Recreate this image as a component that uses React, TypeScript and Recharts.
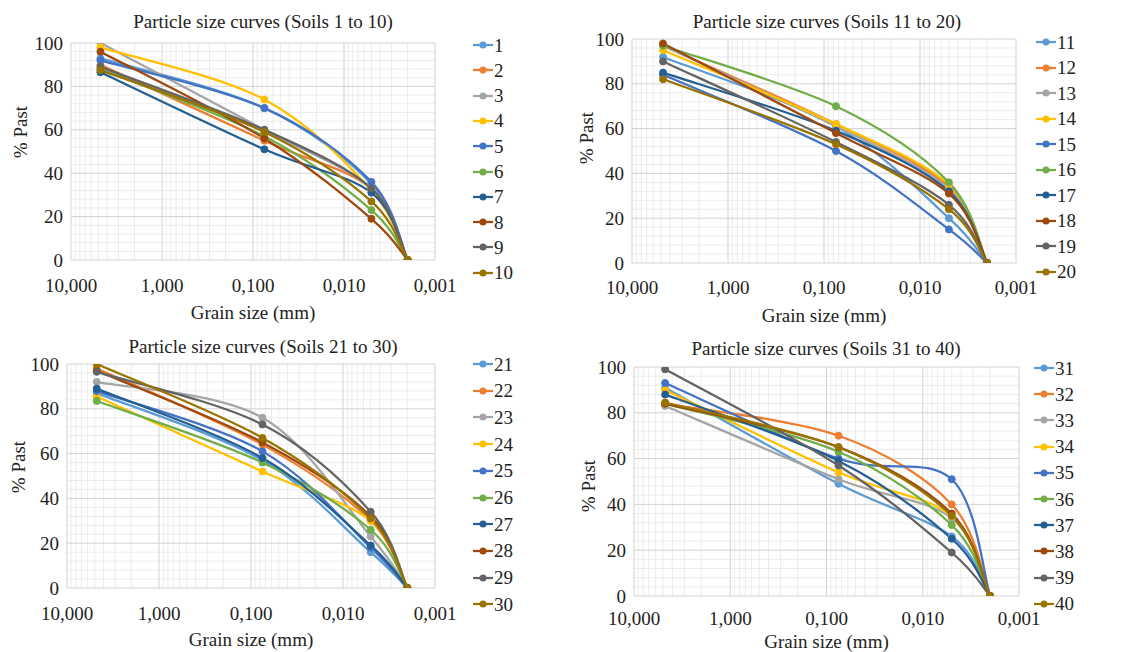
import React from "react";
import { LineChart, Line, XAxis, YAxis, CartesianGrid } from "recharts";

// grain sizes (mm) where % passing was measured
const grainSizes = [4.75, 0.075, 0.005, 0.002];

// % passing, one row per soil, columns follow grainSizes
const soils1to10 = [
  [93, 70, 35, 0],
  [90, 55, 33, 0],
  [100, 60, 33, 0],
  [98, 74, 32, 0],
  [92, 70, 36, 0],
  [88, 57, 23, 0],
  [86.5, 51, 31, 0],
  [96, 56, 19, 0],
  [89, 60, 33, 0],
  [87.5, 59, 27, 0],
];

const soils11to20 = [
  [92, 61, 20, 0],
  [97, 62, 34, 0],
  [97, 61, 33, 0],
  [95, 62, 35, 0],
  [84, 50, 15, 0],
  [97, 70, 36, 0],
  [85, 59, 32, 0],
  [98, 58, 31, 0],
  [90, 54, 26, 0],
  [82, 53, 24, 0],
];

const soils21to30 = [
  [87, 57, 16, 0],
  [98, 64, 30, 0],
  [92, 76, 23, 0],
  [85.5, 52, 30, 0],
  [88, 61, 18, 0],
  [83.5, 56, 26, 0],
  [89, 58, 19, 0],
  [97, 65, 32, 0],
  [96.5, 73, 34, 0],
  [100, 67, 31, 0],
];

const soils31to40 = [
  [91, 49, 26, 0],
  [84, 70, 40, 0],
  [83, 51, 34, 0],
  [90, 54, 35, 0],
  [93, 60, 51, 0],
  [84, 63, 31, 0],
  [88, 59, 25, 0],
  [84, 65, 36, 0],
  [99, 57, 19, 0],
  [84.5, 65, 35, 0],
];

const soilNames1 = ["1", "2", "3", "4", "5", "6", "7", "8", "9", "10"];
const soilNames2 = ["11", "12", "13", "14", "15", "16", "17", "18", "19", "20"];
const soilNames3 = ["21", "22", "23", "24", "25", "26", "27", "28", "29", "30"];
const soilNames4 = ["31", "32", "33", "34", "35", "36", "37", "38", "39", "40"];

const panelTitles = [
  "Particle size curves (Soils 1 to 10)",
  "Particle size curves (Soils 11 to 20)",
  "Particle size curves (Soils 21 to 30)",
  "Particle size curves (Soils 31 to 40)",
];

const xTicks = [10, 1, 0.1, 0.01, 0.001];
const yTicks = [0, 20, 40, 60, 80, 100];
const xMinor = [0.001, 0.01, 0.1, 1].flatMap((d) => [2, 3, 4, 5, 6, 7, 8, 9].map((m) => +(d * m).toPrecision(3)));
const yMinor = [4, 8, 12, 16, 24, 28, 32, 36, 44, 48, 52, 56, 64, 68, 72, 76, 84, 88, 92, 96];

const COLORS = ["#5B9BD5", "#ED7D31", "#A5A5A5", "#FFC000", "#4472C4", "#70AD47", "#255E91", "#9E480E", "#636363", "#997300"];
const FONT = '"Liberation Serif", "Times New Roman", serif';
const TEXT = "#222";
const W = 561;
const H = 326;

const layouts = [
  { left: 0, top: 0, l: 71, r: 435, t: 43, b: 260, titleX: 263, titleY: 21, xTickY: 285, xTitleY: 312, yTitleX: 20, yTitleY: 132, legX: 473, legY: 45, legGap: 25.3 },
  { left: 561, top: 0, l: 71, r: 455, t: 39, b: 263, titleX: 266, titleY: 21, xTickY: 287, xTitleY: 315, yTitleX: 25, yTitleY: 138, legX: 475, legY: 42, legGap: 25.5 },
  { left: 0, top: 326, l: 67, r: 435, t: 38, b: 262, titleX: 263, titleY: 20, xTickY: 287, xTitleY: 313, yTitleX: 18, yTitleY: 141, legX: 473, legY: 38, legGap: 26.7 },
  { left: 561, top: 326, l: 73, r: 458, t: 41, b: 270, titleX: 265, titleY: 22, xTickY: 292, xTitleY: 315, yTitleX: 27, yTitleY: 160, legX: 473, legY: 42, legGap: 26.2 },
];

// Excel-like smoothed line (Catmull-Rom as cubic bezier)
const excelSmooth = (context: any) => {
  let pts: number[][] = [];
  return {
    areaStart() {},
    areaEnd() {},
    lineStart() {
      pts = [];
    },
    point(x: number, y: number) {
      pts.push([+x, +y]);
    },
    lineEnd() {
      const n = pts.length;
      if (!n) return;
      context.moveTo(pts[0][0], pts[0][1]);
      for (let i = 0; i < n - 1; i++) {
        const p0 = pts[Math.max(i - 1, 0)];
        const p1 = pts[i];
        const p2 = pts[i + 1];
        const p3 = pts[Math.min(i + 2, n - 1)];
        context.bezierCurveTo(
          p1[0] + (p2[0] - p0[0]) / 6,
          p1[1] + (p2[1] - p0[1]) / 6,
          p2[0] - (p3[0] - p1[0]) / 6,
          p2[1] - (p3[1] - p1[1]) / 6,
          p2[0],
          p2[1]
        );
      }
    },
  };
};

const formatSize = (v: number) => v.toFixed(3).replace(".", ",");

function Panel({ lay, series, names, title }: any) {
  const rows = grainSizes.map((size, i) => {
    const row: any = { size };
    series.forEach((vals: number[], k: number) => {
      row[`s${k}`] = vals[i];
    });
    return row;
  });

  const textStyle: React.CSSProperties = {
    position: "absolute",
    fontFamily: FONT,
    fontSize: 19,
    color: TEXT,
    whiteSpace: "nowrap",
    lineHeight: 1,
  };

  return (
    <div style={{ position: "absolute", left: lay.left, top: lay.top, width: W, height: H }}>
      <LineChart width={W} height={H} data={rows} margin={{ top: lay.t, right: W - lay.r, bottom: 0, left: 0 }}>
        <CartesianGrid stroke="#ececec" strokeWidth={1} verticalValues={xMinor} horizontalValues={yMinor} />
        <CartesianGrid stroke="#d2d2d2" strokeWidth={1} />
        <XAxis
          dataKey="size"
          type="number"
          scale="log"
          domain={[0.001, 10]}
          reversed
          allowDataOverflow
          ticks={xTicks}
          interval={0}
          height={H - lay.b}
          axisLine={false}
          tickLine={false}
          tickSize={0}
          tickMargin={0}
          tick={(p: any) => (
            <text x={p.x} y={p.y + (lay.xTickY - lay.b)} dy="0.35em" textAnchor="middle" fontFamily={FONT} fontSize={19} fill={TEXT}>
              {formatSize(p.payload.value)}
            </text>
          )}
        />
        <YAxis
          type="number"
          domain={[0, 100]}
          ticks={yTicks}
          interval={0}
          width={lay.l}
          allowDataOverflow
          axisLine={false}
          tickLine={false}
          tickSize={0}
          tickMargin={0}
          tick={(p: any) => (
            <text x={p.x - 8} y={p.y} dy="0.35em" textAnchor="end" fontFamily={FONT} fontSize={19} fill={TEXT}>
              {p.payload.value}
            </text>
          )}
        />
        {series.map((_: number[], k: number) => (
          <Line
            key={k}
            type={excelSmooth as any}
            dataKey={`s${k}`}
            stroke={COLORS[k]}
            strokeWidth={2.25}
            dot={{ r: 3.5, fill: COLORS[k], stroke: COLORS[k], strokeWidth: 1 }}
            activeDot={false}
            isAnimationActive={false}
          />
        ))}
      </LineChart>

      <div style={{ ...textStyle, left: lay.titleX, top: lay.titleY, transform: "translate(-50%, -50%)" }}>{title}</div>
      <div style={{ ...textStyle, left: (lay.l + lay.r) / 2, top: lay.xTitleY, transform: "translate(-50%, -50%)" }}>
        Grain size (mm)
      </div>
      <div style={{ ...textStyle, left: lay.yTitleX, top: lay.yTitleY, transform: "translate(-50%, -50%) rotate(-90deg)" }}>
        % Past
      </div>

      {names.map((name: string, k: number) => (
        <div
          key={name}
          style={{
            position: "absolute",
            left: lay.legX,
            top: lay.legY + k * lay.legGap - 10,
            height: 20,
            display: "flex",
            alignItems: "center",
          }}
        >
          <svg width={20} height={20}>
            <line x1={0} y1={10} x2={20} y2={10} stroke={COLORS[k]} strokeWidth={2.25} />
            <circle cx={10} cy={10} r={3.5} fill={COLORS[k]} />
          </svg>
          <span style={{ fontFamily: FONT, fontSize: 19, color: TEXT, lineHeight: 1, marginLeft: 1 }}>{name}</span>
        </div>
      ))}
    </div>
  );
}

export default function App() {
  const panels = [
    { series: soils1to10, names: soilNames1 },
    { series: soils11to20, names: soilNames2 },
    { series: soils21to30, names: soilNames3 },
    { series: soils31to40, names: soilNames4 },
  ];
  return (
    <div style={{ position: "absolute", left: 0, top: 0, width: 1122, height: 652, background: "#fff", overflow: "hidden" }}>
      {panels.map((p, i) => (
        <Panel key={i} lay={layouts[i]} series={p.series} names={p.names} title={panelTitles[i]} />
      ))}
    </div>
  );
}
